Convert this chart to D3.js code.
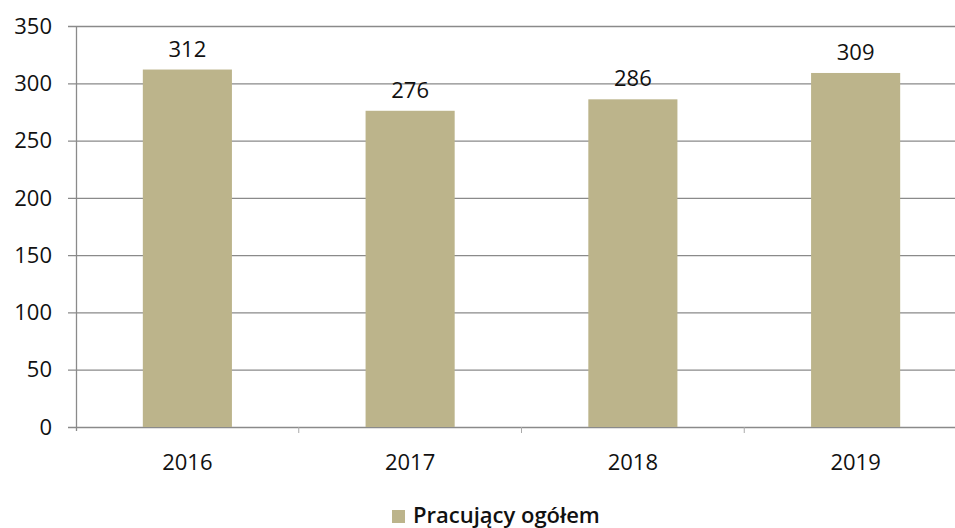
<!DOCTYPE html>
<html>
<head>
<meta charset="utf-8">
<script src="https://cdn.jsdelivr.net/npm/d3@7"></script>
<style>
  body { margin: 0; background: #fff; }
  svg text { font-family: "Open Sans", sans-serif; fill: #111; }
</style>
</head>
<body>
<div id="chart"></div>
<script>
const years = ['2016', '2017', '2018', '2019'];
const employed = [312, 276, 286, 309];
const yTicks = [0, 50, 100, 150, 200, 250, 300, 350];
const seriesName = 'Pracujący ogółem';

const barColor = '#bcb48b';
const gridColor = '#8a8a8a';
const fontSize = '22px';

const width = 955, height = 528;
const plot = {left: 76, right: 967, top: 26, bottom: 427};

const svg = d3.select('#chart')
    .append('svg')
    .attr('width', width)
    .attr('height', height);

const x = d3.scaleBand()
    .domain(years)
    .range([plot.left, plot.right])
    .paddingInner(0.6)
    .paddingOuter(0.3);

const y = d3.scaleLinear()
    .domain([0, 350])
    .range([plot.bottom, plot.top]);

// gridlines + left ticks
svg.append('g')
    .selectAll('line')
    .data(yTicks)
    .enter()
    .append('line')
    .attr('x1', plot.left - 8)
    .attr('x2', width)
    .attr('y1', d => y(d) + 0.5)
    .attr('y2', d => y(d) + 0.5)
    .attr('stroke', gridColor)
    .attr('stroke-width', 1.3);

// y axis line
svg.append('line')
    .attr('x1', plot.left + 0.5).attr('x2', plot.left + 0.5)
    .attr('y1', plot.top).attr('y2', plot.bottom + 4)
    .attr('stroke', gridColor)
    .attr('stroke-width', 1.3);

// y labels
svg.append('g')
    .selectAll('text')
    .data(yTicks)
    .enter()
    .append('text')
    .attr('x', 52)
    .attr('y', d => y(d))
    .attr('dy', '0.35em')
    .attr('text-anchor', 'end')
    .style('font-size', fontSize)
    .style('font-weight', 500)
    .text(d => d);

// category boundary ticks
const step = x.step();
svg.append('g')
    .selectAll('line')
    .data(years.slice(1))
    .enter()
    .append('line')
    .attr('x1', d => x(d) - step * x.paddingInner() / 2)
    .attr('x2', d => x(d) - step * x.paddingInner() / 2)
    .attr('y1', plot.bottom)
    .attr('y2', plot.bottom + 6)
    .attr('stroke', '#aaa')
    .attr('stroke-width', 1);

// bars
svg.append('g')
    .selectAll('rect')
    .data(employed)
    .enter()
    .append('rect')
    .attr('x', (d, i) => x(years[i]))
    .attr('y', d => y(d))
    .attr('width', x.bandwidth())
    .attr('height', d => y(0) - y(d))
    .attr('fill', barColor);

// value labels
svg.append('g')
    .selectAll('text')
    .data(employed)
    .enter()
    .append('text')
    .attr('x', (d, i) => x(years[i]) + x.bandwidth() / 2)
    .attr('y', d => y(d) - 13)
    .attr('text-anchor', 'middle')
    .style('font-size', fontSize)
    .style('font-weight', 500)
    .text(d => d);

// x labels
svg.append('g')
    .selectAll('text')
    .data(years)
    .enter()
    .append('text')
    .attr('x', d => x(d) + x.bandwidth() / 2)
    .attr('y', 470)
    .attr('text-anchor', 'middle')
    .style('font-size', fontSize)
    .style('font-weight', 500)
    .text(d => d);

// legend
const legend = svg.append('g').attr('transform', 'translate(392, 510)');
legend.append('rect')
    .attr('width', 13).attr('height', 13)
    .attr('fill', barColor);
legend.append('text')
    .attr('x', 21)
    .attr('y', 13)
    .style('font-size', fontSize)
    .style('font-weight', 600)
    .text(seriesName);
</script>
</body>
</html>
